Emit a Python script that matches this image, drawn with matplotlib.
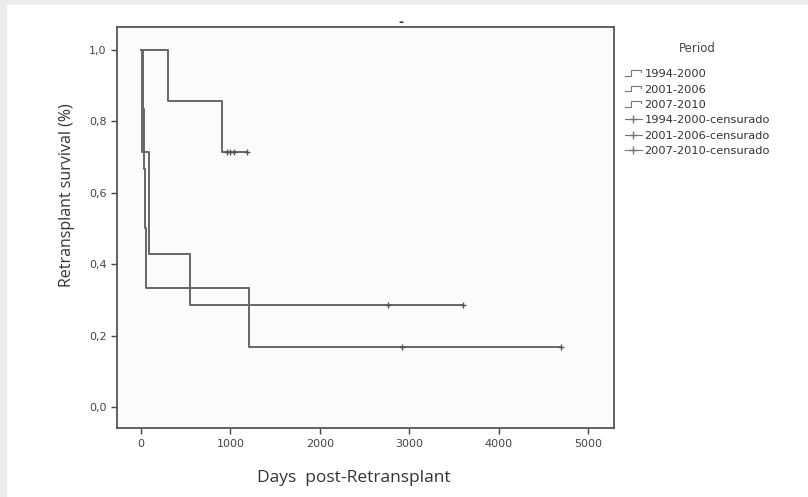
import numpy as np
import matplotlib
matplotlib.use("Agg")
import matplotlib.pyplot as plt
from matplotlib.lines import Line2D
from matplotlib.legend_handler import HandlerBase
from matplotlib.patches import Rectangle

# Kaplan-Meier curves (days, survival)
t_1994 = [0, 20, 35, 50, 60, 1210]
s_1994 = [1.0, 0.833, 0.667, 0.5, 0.333, 0.167]
end_1994 = 4700
cens_1994 = [2920, 4700]

t_2001 = [0, 15, 90, 550]
s_2001 = [1.0, 0.714, 0.429, 0.286]
end_2001 = 3600
cens_2001 = [2760, 3600]

t_2007 = [0, 300, 910]
s_2007 = [1.0, 0.857, 0.714]
end_2007 = 1180
cens_2007 = [960, 1000, 1040, 1180]

periods = ["1994-2000", "2001-2006", "2007-2010"]
x_ticks = [0, 1000, 2000, 3000, 4000, 5000]
y_ticks = [0.0, 0.2, 0.4, 0.6, 0.8, 1.0]
y_labels = ["0,0", "0,2", "0,4", "0,6", "0,8", "1,0"]

line_col = "#666666"

fig = plt.figure(figsize=(8.08, 4.97), dpi=100)
fig.patch.set_facecolor("white")
# light grey bands on top and left edge of the scan
fig.patches.append(Rectangle((0, 1 - 5 / 497), 1, 5 / 497, transform=fig.transFigure,
                             facecolor="#ececec", edgecolor="none", zorder=-1))
fig.patches.append(Rectangle((0, 0), 7 / 808, 1, transform=fig.transFigure,
                             facecolor="#ececec", edgecolor="none", zorder=-1))

ax = fig.add_axes([0.1448, 0.1388, 0.6152, 0.8069])
ax.set_facecolor("#fbfbfb")


def km_steps(t, s, end):
    xs = list(t) + [end]
    ys = list(s) + [s[-1]]
    return xs, ys


def surv_at(t, s, x):
    idx = np.searchsorted(t, x, side="right") - 1
    return np.array(s)[idx]


for t, s, end, cens in [(t_1994, s_1994, end_1994, cens_1994),
                        (t_2001, s_2001, end_2001, cens_2001),
                        (t_2007, s_2007, end_2007, cens_2007)]:
    xs, ys = km_steps(t, s, end)
    ax.step(xs, ys, where="post", color=line_col, lw=1.4)
    ax.plot(cens, surv_at(t, s, cens), ls="none", marker="+", ms=5, mew=1.0, color="#555555")

ax.set_xlim(-268, 5290)
ax.set_ylim(-0.059, 1.064)
ax.set_xticks(x_ticks)
ax.set_xticklabels([str(v) for v in x_ticks], fontsize=8, color="#444444")
ax.set_yticks(y_ticks)
ax.set_yticklabels(y_labels, fontsize=8, color="#444444")
ax.tick_params(axis="both", direction="out", length=4, width=1.0, color="#444444")
ax.tick_params(axis="x", pad=4)
for sp in ax.spines.values():
    sp.set_color("#555555")
    sp.set_linewidth(1.3)

ax.set_xlabel("Days  post-Retransplant", fontsize=12.5, family="Open Sans", color="#333333")
ax.xaxis.set_label_coords(0.477, -0.125)
ax.xaxis.label.set_verticalalignment("center")
ax.set_ylabel("Retransplant survival (%)", fontsize=11.5, family="Open Sans", color="#333333")
ax.yaxis.set_label_coords(-0.10, 0.58)
ax.yaxis.label.set_verticalalignment("center")

fig.text(0.496, 0.954, "-", fontsize=9, fontweight="bold", color="#333333", ha="center", va="center")


class StepHandler(HandlerBase):
    def create_artists(self, legend, orig_handle, xdescent, ydescent, width, height, fontsize, trans):
        xs = np.array([0, 0.4, 0.4, 0.95, 0.95]) * width - xdescent
        ys = np.array([0.15, 0.15, 0.85, 0.85, 0.6]) * height - ydescent
        return [Line2D(xs, ys, color="#777777", lw=0.8, transform=trans)]


step_handles = [Line2D([], [], color="#777777") for _ in periods]
cens_handles = [Line2D([], [], color="#777777", lw=0.8, marker="+", ms=6) for _ in periods]
handles = step_handles + cens_handles
labels = periods + [p + "-censurado" for p in periods]
hmap = {h: StepHandler() for h in step_handles}

leg = ax.legend(handles, labels, handler_map=hmap, loc="upper left",
                bbox_to_anchor=(1.012, 0.906), frameon=False, fontsize=8.2,
                handlelength=1.5, handletextpad=0.25,
                labelspacing=0.47, borderaxespad=0)
for txt in leg.get_texts():
    txt.set_color("#333333")

# legend title placed separately, it sits further above the entries
fig.text(697 / 808, 1 - 49 / 497, "Period", fontsize=8.5, color="#444444",
         ha="center", va="center")

fig.savefig("out.png", dpi=100, facecolor=fig.get_facecolor())
